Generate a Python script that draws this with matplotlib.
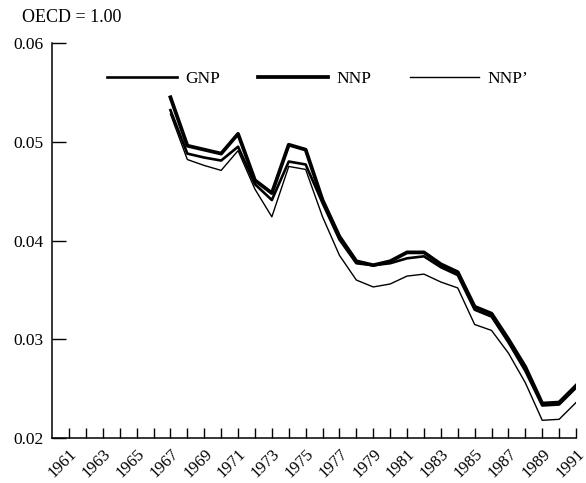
import matplotlib
matplotlib.use("Agg")
import matplotlib.pyplot as plt
from matplotlib.transforms import ScaledTranslation

# Per-capita output relative to the OECD average (OECD = 1.00)
years = list(range(1967, 1992))

gnp = [0.0532, 0.0488, 0.0484, 0.0481, 0.0495, 0.0457, 0.0441, 0.0480, 0.0477,
       0.0438, 0.0401, 0.0377, 0.0375, 0.0377, 0.0382, 0.0384, 0.0373, 0.0365,
       0.0330, 0.0323, 0.0297, 0.0268, 0.0233, 0.0234, 0.0251]

nnp = [0.0545, 0.0496, 0.0492, 0.0488, 0.0508, 0.0461, 0.0448, 0.0497, 0.0492,
       0.0441, 0.0404, 0.0379, 0.0375, 0.0379, 0.0388, 0.0388, 0.0376, 0.0368,
       0.0333, 0.0326, 0.0300, 0.0272, 0.0235, 0.0236, 0.0253]

nnp_adj = [0.0528, 0.0482, 0.0476, 0.0471, 0.0491, 0.0452, 0.0424, 0.0475, 0.0472,
           0.0424, 0.0385, 0.0360, 0.0353, 0.0356, 0.0364, 0.0366, 0.0358, 0.0352,
           0.0315, 0.0309, 0.0286, 0.0256, 0.0218, 0.0219, 0.0236]

tick_years = list(range(1961, 1992))
label_years = list(range(1961, 1992, 2))
y_ticks = [0.02, 0.03, 0.04, 0.05, 0.06]

plt.rcParams["font.family"] = ["Liberation Serif", "DejaVu Serif"]

fig = plt.figure(figsize=(5.86, 4.83), dpi=100)
ax = fig.add_axes([0.089, 0.093, 0.894, 0.818])

ax.plot(years, nnp_adj, color="black", lw=1.0, label="NNP\u2019", zorder=2)
ax.plot(years, gnp, color="black", lw=1.9, label="GNP", zorder=3)
ax.plot(years, nnp, color="black", lw=2.7, label="NNP", zorder=4)

ax.set_xlim(1960, 1991)
ax.set_ylim(0.02, 0.06)

ax.set_xticks(tick_years)
ax.set_xticklabels([str(y) if y in label_years else "" for y in tick_years],
                   rotation=45, fontsize=12, ha="right", rotation_mode="anchor")
shift = ScaledTranslation(6 / 72, 0, fig.dpi_scale_trans)
for lbl in ax.get_xticklabels():
    lbl.set_transform(lbl.get_transform() + shift)

ax.set_yticks(y_ticks)
ax.set_yticklabels([f"{v:.2f}" for v in y_ticks], fontsize=12.5)

ax.tick_params(axis="x", direction="in", length=7, width=1, pad=6)
ax.tick_params(axis="y", direction="in", length=10, width=1, pad=6)

for side in ("top", "right"):
    ax.spines[side].set_visible(False)
for side in ("left", "bottom"):
    ax.spines[side].set_linewidth(1.1)

handles, labels = ax.get_legend_handles_labels()
order = [1, 2, 0]
ax.legend([handles[i] for i in order], [labels[i] for i in order],
          loc="upper left", bbox_to_anchor=(0.075, 0.97), ncol=3,
          frameon=False, handlelength=4.0, columnspacing=2.2,
          handletextpad=0.5, fontsize=12.5)

fig.text(0.038, 0.963, "OECD = 1.00", fontsize=13, va="center", ha="left")

fig.savefig("out.png", dpi=100)
